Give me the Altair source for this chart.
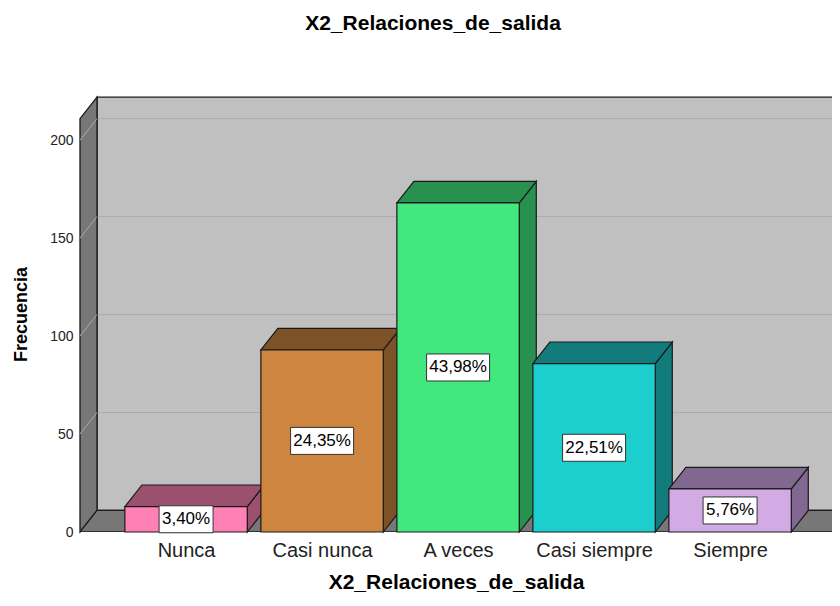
import json
import altair as alt
import pandas as pd

# ---------------- data ----------------
categories = ["Nunca", "Casi nunca", "A veces", "Casi siempre", "Siempre"]
counts = [13, 93, 168, 86, 22]
pct_labels = ["3,40%", "24,35%", "43,98%", "22,51%", "5,76%"]
front_colors = ["#ff80b4", "#cd853f", "#42e87e", "#1ccece", "#d2aae4"]
shade_colors = ["#9b506e", "#7d5228", "#289150", "#127b7b", "#806890"]
y_ticks = [0, 50, 100, 150, 200]
chart_title = "X2_Relaciones_de_salida"
x_title = "X2_Relaciones_de_salida"
y_title = "Frecuencia"

# ---------------- layout / pseudo-3D geometry (scale units) ----------------
FONT = "Liberation Sans"
W, H = 752, 436
PXX = 136.0
X0 = -0.78
X1 = X0 + W / PXX             # x domain (category index units)
YDOM = 222.6                  # y domain max (counts)
YTOP = 222.0                  # top of the back wall
DX, DY = 0.125, 11.0          # oblique depth offsets
HALF = 0.45                   # half bar width
FLOOR_END = 4.75
PXY = H / YDOM

xs = alt.Scale(domain=[X0, X1], nice=False, zero=False)
ys = alt.Scale(domain=[0, YDOM], nice=False, zero=False)

# bars
bars = pd.DataFrame({"cat": categories, "idx": list(range(len(categories))),
                     "count": counts, "fill": front_colors, "shade": shade_colors,
                     "label": pct_labels})
bars["xl"] = bars["idx"] - HALF
bars["xr"] = bars["idx"] + HALF
bars["base"] = 0.0
bars["mid"] = bars["count"] / 2.0
box_w = bars["label"].str.len() * 9 + 9          # px
bars["bxl"] = bars["idx"] - box_w / 2 / PXX
bars["bxr"] = bars["idx"] + box_w / 2 / PXX
bars["byl"] = bars["mid"] - 13.5 / PXY
bars["byh"] = bars["mid"] + 13.5 / PXY

side_rows, top_rows = [], []
for _, r in bars.iterrows():
    c, xl, xr = r["count"], r["xl"], r["xr"]
    side_rows += [dict(cat=r["cat"], shade=r["shade"], x=xr, y=0.0, y2=c),
                  dict(cat=r["cat"], shade=r["shade"], x=xr + DX, y=DY, y2=c + DY)]
    top_rows += [dict(cat=r["cat"], shade=r["shade"], x=xl, y=c, y2=c),
                 dict(cat=r["cat"], shade=r["shade"], x=xl + DX, y=c, y2=c + DY),
                 dict(cat=r["cat"], shade=r["shade"], x=xr, y=c, y2=c + DY),
                 dict(cat=r["cat"], shade=r["shade"], x=xr + DX, y=c + DY, y2=c + DY)]
side = pd.DataFrame(side_rows)
top = pd.DataFrame(top_rows)

back_wall = pd.DataFrame({"x": [X0 + DX], "x2": [X1 + 1], "y": [DY], "y2": [YTOP]})
left_wall = pd.DataFrame({"x": [X0, X0 + DX], "y": [0.0, DY], "y2": [YTOP - DY, YTOP]})
floor = pd.DataFrame({"x": [X0, X0 + DX, FLOOR_END, FLOOR_END + DX],
                      "y": [0.0, 0.0, 0.0, DY], "y2": [0.0, DY, DY, DY]})
grid_back = pd.DataFrame({"x": [X0 + DX] * 4, "x2": [X1 + 1] * 4,
                          "y": [v + DY for v in y_ticks[1:]]})
grid_slant = pd.DataFrame({"x": [X0] * 5, "x2": [X0 + DX] * 5,
                           "y": [float(v) for v in y_ticks],
                           "y2": [v + DY for v in y_ticks]})

WALL = "#c0c0c0"
DARK = "#777777"
GRID = "#aaaaaa"
EDGE = "#1a1a1a"

label_expr = json.dumps(categories) + "[datum.value]"
x_axis = alt.Axis(values=list(range(len(categories))), labelExpr=label_expr,
                  title=x_title, titleFont=FONT, titleFontSize=21,
                  titleFontWeight="bold", titleColor="black", titlePadding=11,
                  labelFont=FONT, labelFontSize=20, labelColor="#222222",
                  labelPadding=8, ticks=False, tickSize=0, domain=False, grid=False,
                  labelOverlap=False, labelFlush=False, labelBound=False)
y_axis = alt.Axis(values=y_ticks, title=y_title, titleFont=FONT, titleFontSize=18,
                  titleFontWeight="bold", titleColor="black", titlePadding=19,
                  labelFont=FONT, labelFontSize=14, labelColor="#222222",
                  labelPadding=7, ticks=False, tickSize=0, domain=False, grid=False)


def qx(f):
    return alt.X(f, type="quantitative", scale=xs, axis=x_axis)


def qy(f):
    return alt.Y(f, type="quantitative", scale=ys, axis=y_axis)


l_back = alt.Chart(back_wall).mark_rect(fill=WALL, stroke=EDGE, strokeWidth=1.3, clip=True).encode(
    x=qx("x"), x2="x2", y=qy("y"), y2="y2")
l_gridb = alt.Chart(grid_back).mark_rule(color=GRID, strokeWidth=1, clip=True).encode(
    x=qx("x"), x2="x2", y=qy("y"))
l_left = alt.Chart(left_wall).mark_area(orient="vertical", fill=DARK, stroke=EDGE,
                                        strokeWidth=1.3).encode(
    x=qx("x"), y=qy("y"), y2="y2")
l_grids = alt.Chart(grid_slant).mark_rule(color=GRID, strokeWidth=1).encode(
    x=qx("x"), x2="x2", y=qy("y"), y2="y2")
l_floor = alt.Chart(floor).mark_area(orient="vertical", fill=DARK, stroke=EDGE,
                                     strokeWidth=1.3, clip=True).encode(
    x=qx("x"), y=qy("y"), y2="y2")

l_side = alt.Chart(side).mark_area(orient="vertical", stroke=EDGE, strokeWidth=1.2,
                                   fillOpacity=1).encode(
    x=qx("x"), y=qy("y"), y2="y2", detail="cat:N",
    fill=alt.Fill("shade:N", scale=None))
l_top = alt.Chart(top).mark_area(orient="vertical", stroke=EDGE, strokeWidth=1.2,
                                 fillOpacity=1).encode(
    x=qx("x"), y=qy("y"), y2="y2", detail="cat:N",
    fill=alt.Fill("shade:N", scale=None))
l_front = alt.Chart(bars).mark_rect(stroke=EDGE, strokeWidth=1.2).encode(
    x=qx("xl"), x2="xr:Q", y=qy("base"), y2="count:Q",
    fill=alt.Fill("fill:N", scale=None))

l_box = alt.Chart(bars).mark_rect(fill="white", stroke="#333333", strokeWidth=1).encode(
    x=qx("bxl"), x2="bxr", y=qy("byl"), y2="byh")
l_text = alt.Chart(bars).mark_text(font=FONT, fontSize=17, color="black",
                                   align="center", baseline="middle").encode(
    x=qx("idx"), y=qy("mid"), text="label:N")

chart = alt.layer(l_back, l_gridb, l_left, l_grids, l_floor, l_side, l_top, l_front,
                  l_box, l_text).properties(
    width=W, height=H,
    title=alt.TitleParams(text=chart_title, font=FONT, fontSize=21, fontWeight="bold",
                          color="black", anchor="middle", dx=-23, offset=50,
                          baseline="middle"),
    autosize=alt.AutoSizeParams(type="none"),
    padding={"left": 72, "top": 88, "right": 0, "bottom": 62},
    background="white",
).configure_view(stroke=None)

chart.save("out.html", embed_options={"renderer": "svg", "actions": False})
